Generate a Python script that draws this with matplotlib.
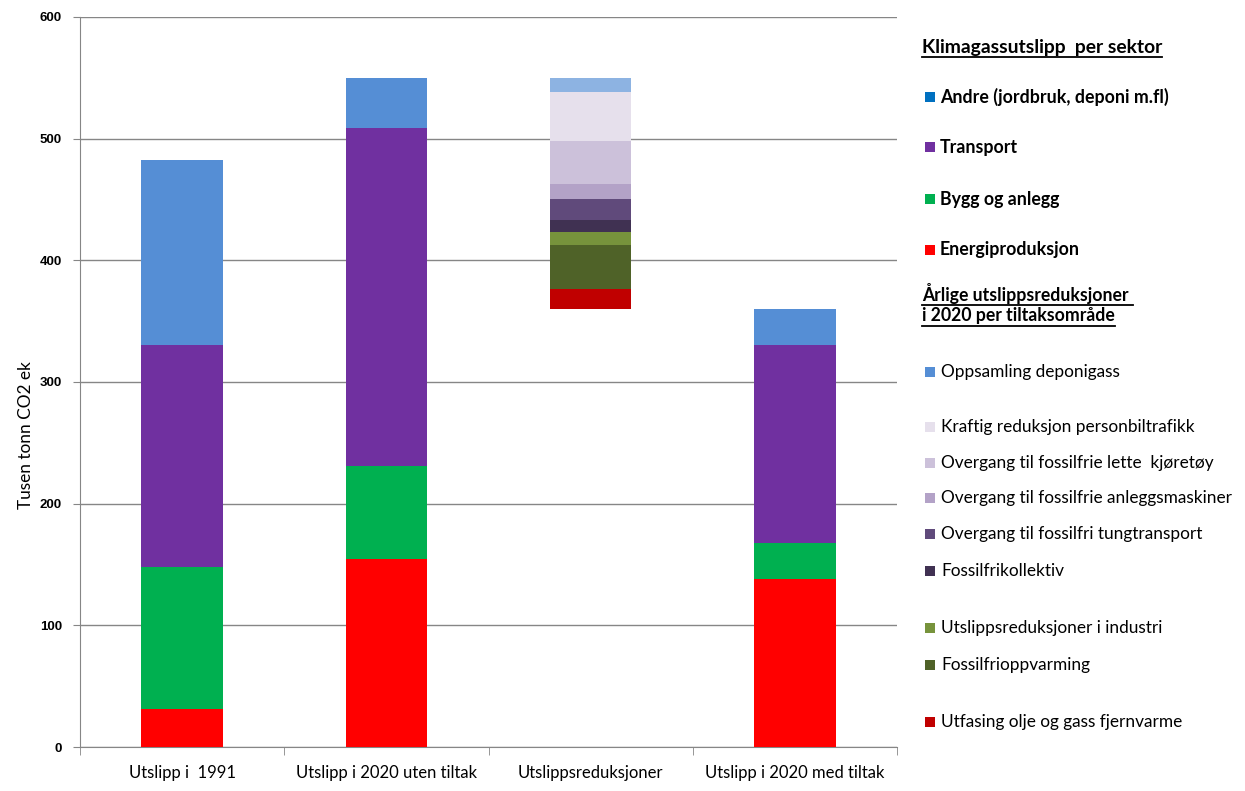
import matplotlib
matplotlib.use("Agg")
import matplotlib.pyplot as plt
from matplotlib.patches import Rectangle
import numpy as np

categories = ["Utslipp i  1991", "Utslipp i 2020 uten tiltak", "Utslippsreduksjoner", "Utslipp i 2020 med tiltak"]

# sector values for bars 1, 2 and 4
sector_names = ["Energiproduksjon", "Bygg og anlegg", "Transport", "Andre (jordbruk, deponi m.fl)"]
energi = [31, 154.5, 138]
bygg = [117, 76.5, 29.7]
transport = [182, 278, 162.7]
andre = [152.5, 41, 29.6]
sector_colors = ["#FF0000", "#00B050", "#7030A0", "#558ED5"]
sector_legend_colors = ["#FF0000", "#00B050", "#7030A0", "#0070C0"]

# reductions, bottom to top
red_names = ["Utfasing olje og gass fjernvarme", "Fossilfrioppvarming", "Utslippsreduksjoner i industri",
             "Fossilfrikollektiv", "Overgang til fossilfri tungtransport",
             "Overgang til fossilfrie anleggsmaskiner", "Overgang til fossilfrie lette  kjøretøy",
             "Kraftig reduksjon personbiltrafikk", "Oppsamling deponigass"]
red_values = [16.4, 36.2, 10.7, 9.8, 17.3, 12.3, 35.3, 40.4, 11.6]
red_colors = ["#C00000", "#4F6228", "#77933C", "#403152", "#604A7B", "#B3A2C7", "#CCC1DA", "#E6E0EC", "#8DB3E2"]
red_legend_colors = ["#C00000", "#4F6228", "#77933C", "#403152", "#604A7B", "#B3A2C7", "#CCC1DA", "#E6E0EC", "#558ED5"]

yticks = [0, 100, 200, 300, 400, 500, 600]

W, H = 1245, 791
fig = plt.figure(figsize=(12.45, 7.91), dpi=100)
ax = fig.add_axes([80/W, 44/H, 817/W, 730/H])

x = np.arange(len(categories))
w = 0.4
sector_pos = [0, 1, 3]
series = [energi, bygg, transport, andre]
bottom = np.zeros(3)
for vals, col in zip(series, sector_colors):
    ax.bar([x[i] for i in sector_pos], vals, w, bottom=bottom, color=col, zorder=3)
    bottom = bottom + np.array(vals)

total_uten = energi[1] + bygg[1] + transport[1] + andre[1]
b = total_uten - sum(red_values)
for v, col in zip(red_values, red_colors):
    ax.bar(x[2], v, w, bottom=b, color=col, zorder=3)
    b += v

ax.set_xlim(-0.5, 3.5)
ax.set_ylim(0, 600)
ax.set_yticks(yticks)
ax.set_yticklabels([str(t) for t in yticks], fontfamily="Liberation Sans", fontweight="bold", fontsize=9.5)
ax.set_xticks(x)
ax.set_xticklabels(categories, fontfamily="Lato", fontsize=12)
ax.set_xticks(np.arange(-0.5, 4.0, 1.0), minor=True)
ax.tick_params(axis="x", which="major", length=0, pad=13)
ax.tick_params(axis="x", which="minor", length=6, color="#868686", direction="out")
ax.tick_params(axis="y", length=5, color="#868686", direction="out", pad=8)
ax.grid(axis="y", color="#868686", linewidth=1, zorder=0)
for s in ["top", "right"]:
    ax.spines[s].set_visible(False)
for s in ["left", "bottom"]:
    ax.spines[s].set_color("#868686")

fig.text(26/W, 1 - 435/H, "Tusen tonn CO2 ek", fontfamily="Lato", fontsize=12.4,
         rotation=90, ha="center", va="center")

# custom legend
def fx(px):
    return px / W
def fy(py):
    return 1 - py / H

texts_ul = []
def add_text(px, py, s, bold=False, underline=False, size=12.4):
    t = fig.text(fx(px), fy(py), s, fontfamily="Lato", fontweight="bold" if bold else "normal",
                 fontsize=size, va="center", ha="left")
    if underline:
        texts_ul.append(t)
    return t

def add_square(px, py, col):
    fig.patches.append(Rectangle((fx(925), fy(py) - 5/H), 10/W, 10/H, transform=fig.transFigure,
                                 facecolor=col, edgecolor="none"))

add_text(922, 47, "Klimagassutslipp  per sektor", bold=True, underline=True, size=13.9)
sec_y = [250, 199, 147, 97]
for name, col, py in zip(sector_names, sector_legend_colors, sec_y):
    add_square(925, py, col)
    add_text(940, py, name, bold=True, size=12.8)
add_text(922, 293, "Årlige utslippsreduksjoner ", bold=True, underline=True, size=12.7)
add_text(922, 316, "i 2020 per tiltaksområde", bold=True, underline=True, size=12.7)
red_y = [722, 665, 628, 571, 534, 498, 463, 427, 372]
for name, col, py in zip(red_names, red_legend_colors, red_y):
    add_square(925, py, col)
    add_text(941, py, name, size=12.4)

fig.canvas.draw()
r = fig.canvas.get_renderer()
for t in texts_ul:
    bb = t.get_window_extent(r)
    yline = bb.y0 - 1
    fig.add_artist(plt.Line2D([bb.x0 / W, bb.x1 / W], [yline / H, yline / H], transform=fig.transFigure,
                              color="black", linewidth=1.3))

fig.savefig("out.png", dpi=100)
